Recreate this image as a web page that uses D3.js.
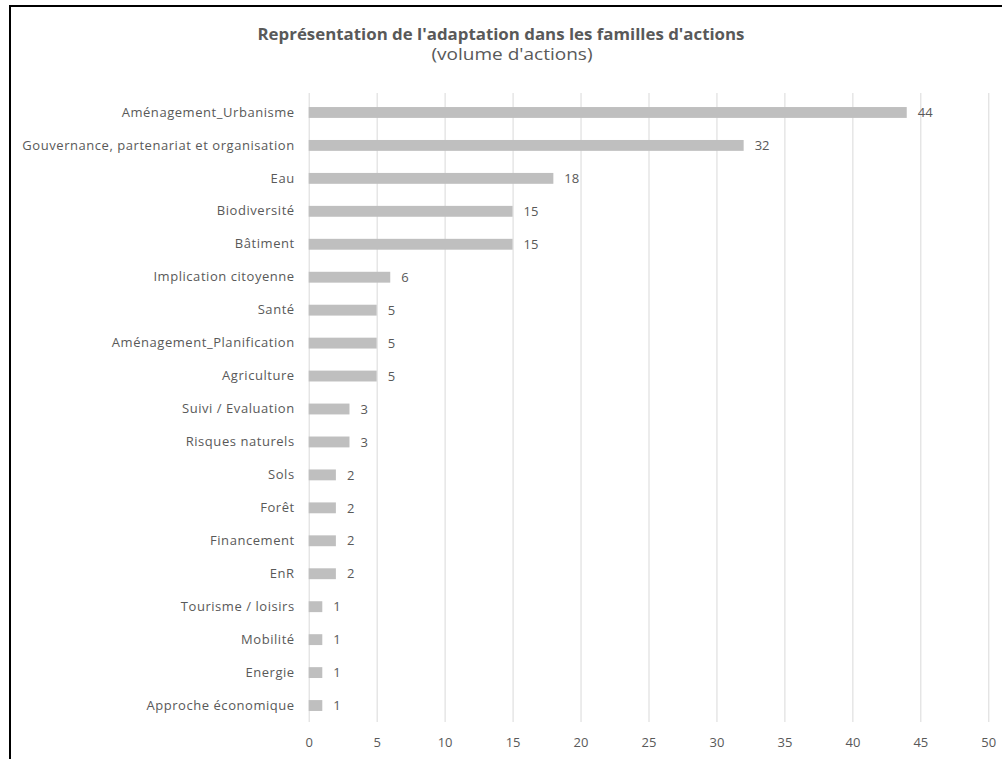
<!DOCTYPE html>
<html>
<head>
<meta charset="utf-8">
<script src="https://cdn.jsdelivr.net/npm/d3@7"></script>
<style>
  html, body { margin: 0; padding: 0; background: #fff; }
  svg { display: block; }
</style>
</head>
<body>
<svg id="chart" width="1002" height="759"></svg>
<script>
// Action families (top to bottom) and number of actions in each
const categories = [
  "Aménagement_Urbanisme",
  "Gouvernance, partenariat et organisation",
  "Eau",
  "Biodiversité",
  "Bâtiment",
  "Implication citoyenne",
  "Santé",
  "Aménagement_Planification",
  "Agriculture",
  "Suivi / Evaluation",
  "Risques naturels",
  "Sols",
  "Forêt",
  "Financement",
  "EnR",
  "Tourisme / loisirs",
  "Mobilité",
  "Energie",
  "Approche économique"
];
const values = [44, 32, 18, 15, 15, 6, 5, 5, 5, 3, 3, 2, 2, 2, 2, 1, 1, 1, 1];
const xTicks = [0, 5, 10, 15, 20, 25, 30, 35, 40, 45, 50];

const titleText = "Représentation de l'adaptation dans les familles d'actions";
const subtitleText = "(volume d'actions)";

const svg = d3.select("#chart");
const textColor = "#595959";
const font = "'Open Sans', 'Noto Sans', sans-serif";

// frame lines (top and left)
svg.append("line").attr("x1", 9).attr("x2", 1002).attr("y1", 6).attr("y2", 6)
  .attr("stroke", "#000").attr("stroke-width", 2);
svg.append("line").attr("x1", 10).attr("x2", 10).attr("y1", 5).attr("y2", 759)
  .attr("stroke", "#000").attr("stroke-width", 2);

const plot = { left: 308.7, right: 988.3, top: 93, bottom: 722 };

const x = d3.scaleLinear().domain([0, 50]).range([plot.left, plot.right]);
const y = d3.scaleBand().domain(categories).range([96, 722]).paddingInner(0.67).paddingOuter(0.335);

// title
svg.append("text")
  .attr("x", 501).attr("y", 40)
  .attr("text-anchor", "middle")
  .attr("font-family", font).attr("font-weight", "bold").attr("font-size", 15.5)
  .attr("fill", textColor)
  .attr("textLength", 487).attr("lengthAdjust", "spacingAndGlyphs")
  .text(titleText);
svg.append("text")
  .attr("x", 512).attr("y", 60)
  .attr("text-anchor", "middle")
  .attr("font-family", font).attr("font-size", 15.5)
  .attr("fill", textColor)
  .attr("textLength", 161).attr("lengthAdjust", "spacingAndGlyphs")
  .text(subtitleText);

// vertical gridlines
svg.append("g").selectAll("line").data(xTicks).join("line")
  .attr("x1", d => x(d) + 0.5).attr("x2", d => x(d) + 0.5)
  .attr("y1", plot.top).attr("y2", plot.bottom)
  .attr("stroke", "#d9d9d9").attr("stroke-width", 1);

// x axis labels
const xAxis = d3.axisBottom(x).tickValues(xTicks).tickSize(0).tickPadding(0);
const gx = svg.append("g").attr("transform", `translate(0,${plot.bottom + 16})`).call(xAxis);
gx.select(".domain").remove();
gx.selectAll("text")
  .attr("font-family", font).attr("font-size", 13).attr("fill", textColor);

// category labels
const yAxis = d3.axisLeft(y).tickSize(0).tickPadding(0);
const gy = svg.append("g").attr("transform", `translate(${plot.left - 14},0)`).call(yAxis);
gy.select(".domain").remove();
gy.selectAll("text")
  .attr("font-family", font).attr("font-size", 13).attr("letter-spacing", 0.55)
  .attr("fill", textColor);

// bars
svg.append("g").selectAll("rect").data(categories).join("rect")
  .attr("x", x(0))
  .attr("y", d => y(d))
  .attr("width", (d, i) => x(values[i]) - x(0))
  .attr("height", y.bandwidth())
  .attr("fill", "#bfbfbf");

// value labels
svg.append("g").selectAll("text").data(categories).join("text")
  .attr("x", (d, i) => x(values[i]) + 11)
  .attr("y", d => y(d) + y.bandwidth() / 2)
  .attr("dy", "0.36em")
  .attr("font-family", font).attr("font-size", 13).attr("fill", textColor)
  .text((d, i) => values[i]);
</script>
</body>
</html>
